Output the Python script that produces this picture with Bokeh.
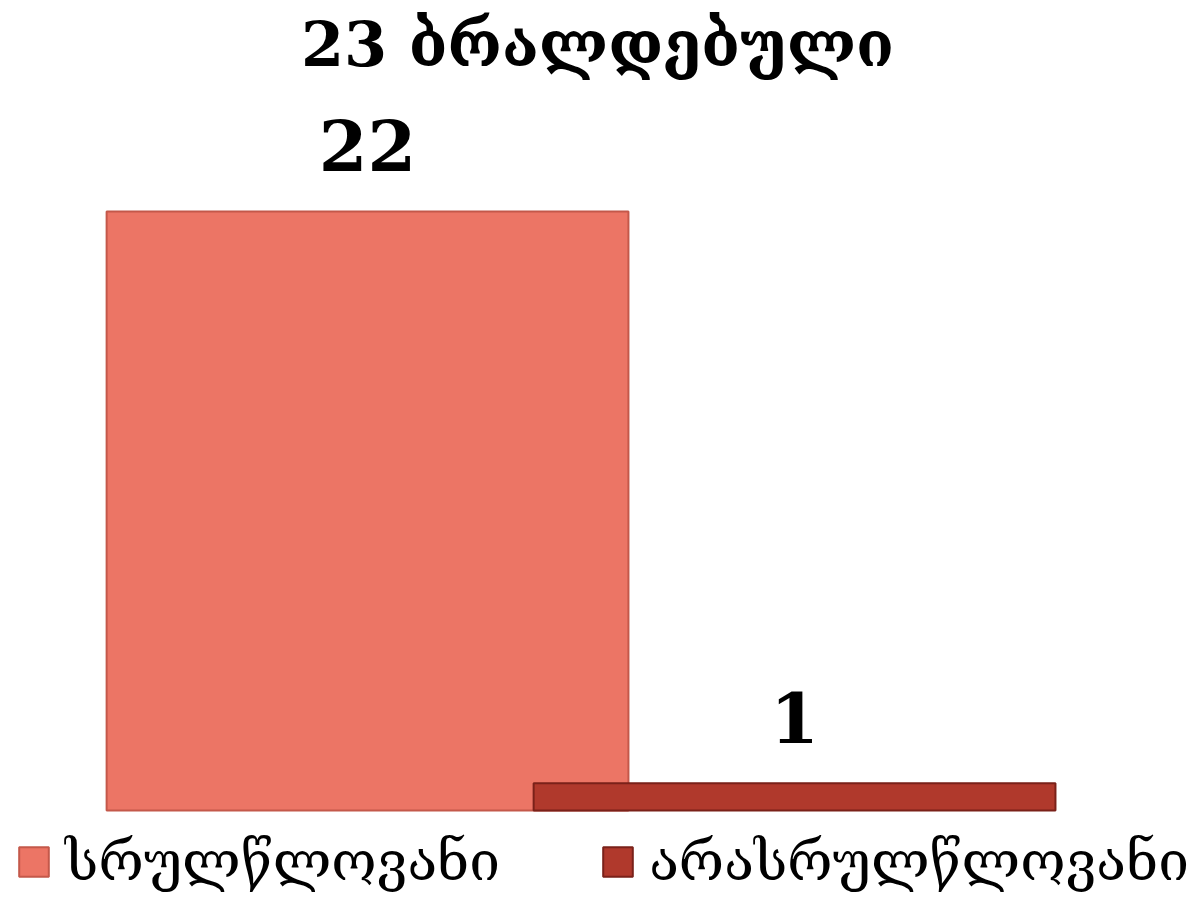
from bokeh.plotting import figure
from bokeh.models import ColumnDataSource, Range1d, Legend, LegendItem, Label
from bokeh.core.properties import value
from bokeh.embed import file_html
from bokeh.resources import INLINE

title_text = "23 ბრალდებული"
categories = ["სრულწლოვანი", "არასრულწლოვანი"]
counts = [22, 1]
colors = ["#EC7565", "#B0392C"]
edge_colors = ["#C4584A", "#7A2119"]

FONT = "DejaVu Serif"

idx = list(range(len(categories)))
src = ColumnDataSource(dict(x=idx, top=counts, label=[str(c) for c in counts]))

p = figure(width=1204, height=907, output_backend="svg", toolbar_location=None,
           x_range=Range1d(-0.8595, 1.960), y_range=Range1d(-3.562, 29.75),
           min_border=0, outline_line_color=None)
p.xaxis.visible = False
p.yaxis.visible = False
p.grid.visible = False
p.background_fill_color = "white"

renderers = []
for i in idx:
    r = p.vbar(x=[idx[i]], top=[counts[i]], bottom=0, width=1.222,
               fill_color=colors[i], line_color=edge_colors[i], line_width=2)
    renderers.append(r)

p.text(x="x", y="top", text="label", source=src, text_align="center",
       text_baseline="alphabetic", y_offset=-66, text_font=value(FONT),
       text_font_style="bold", text_font_size="70px", text_color="black")

p.add_layout(Label(x=597, y=863, x_units="screen", y_units="screen", text=title_text,
                   text_align="center", text_baseline="alphabetic", text_font=FONT,
                   text_font_style="bold", text_font_size="62px", text_color="black"))

legend = Legend(items=[LegendItem(label=categories[i], renderers=[renderers[i]]) for i in idx],
                orientation="horizontal", location=(15, 14),
                glyph_width=37, glyph_height=37, label_standoff=13, spacing=99,
                label_text_font=FONT, label_text_font_size="55px", label_text_color="black",
                border_line_color=None, background_fill_alpha=0, padding=0, margin=0)
p.add_layout(legend)

open("out.html", "w").write(file_html(p, INLINE))
